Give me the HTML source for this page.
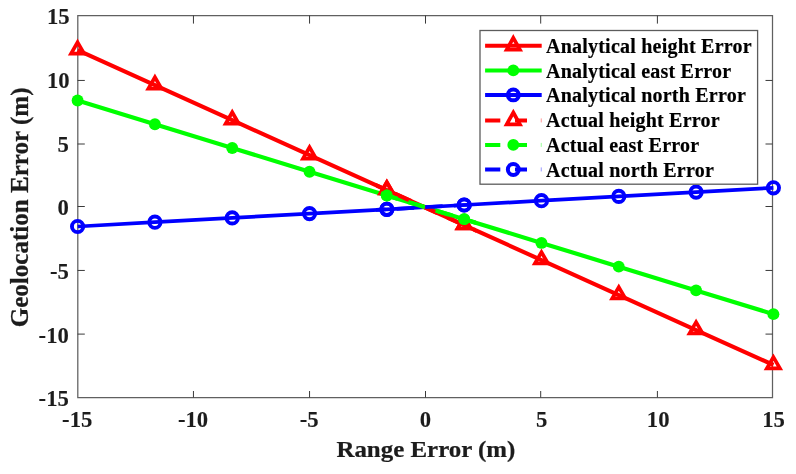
<!DOCTYPE html>
<html lang="en"><head><meta charset="utf-8"><title>Geolocation Error vs Range Error</title>
<style>html,body{margin:0;padding:0;background:#fff}body{width:796px;height:474px;overflow:hidden}svg{display:block}</style>
</head><body>
<svg width="796" height="474" viewBox="0 0 796 474">
<rect width="796" height="474" fill="#fff"/>
<path d="M77.8 15.5H772.5V397.5H77.8Z" stroke="#606060" stroke-width="1.25" fill="none"/>
<g stroke="#3a3a3a" stroke-width="1" fill="none">
<path d="M193.45 397.5v-6.5M193.45 15.5v8.1"/>
<path d="M309.55 397.5v-6.5M309.55 15.5v8.1"/>
<path d="M425.5 397.5v-6.5M425.5 15.5v8.1"/>
<path d="M540.7 397.5v-6.5M540.7 15.5v8.1"/>
<path d="M657.4 397.5v-6.5M657.4 15.5v8.1"/>
<path d="M77.6 80.45h7.2M772.5 80.45h-7"/>
<path d="M77.6 144.0h7.2M772.5 144.0h-7"/>
<path d="M77.6 206.5h7.2M772.5 206.5h-7"/>
<path d="M77.6 270.45h7.2M772.5 270.45h-7"/>
<path d="M77.6 334.1h7.2M772.5 334.1h-7"/>
</g>
<polyline points="77.60,50.20 154.91,85.18 232.22,120.16 309.53,155.13 386.84,190.11 464.16,225.09 541.47,260.07 618.78,295.04 696.09,330.02 773.40,365.00" fill="none" stroke="#f00" stroke-width="4.15" stroke-linejoin="round"/>
<g fill="none" stroke="#f00" stroke-width="3.7" stroke-miterlimit="10">
<path d="M77.60 42.30L84.12 53.60L71.07 53.60Z"/>
<path d="M154.91 77.28L161.44 88.58L148.39 88.58Z"/>
<path d="M232.22 112.26L238.75 123.56L225.70 123.56Z"/>
<path d="M309.53 147.23L316.06 158.53L303.01 158.53Z"/>
<path d="M386.84 182.21L393.37 193.51L380.32 193.51Z"/>
<path d="M464.16 217.19L470.68 228.49L457.63 228.49Z"/>
<path d="M541.47 252.17L547.99 263.47L534.94 263.47Z"/>
<path d="M618.78 287.14L625.30 298.44L612.25 298.44Z"/>
<path d="M696.09 322.12L702.61 333.42L689.56 333.42Z"/>
<path d="M773.40 357.10L779.92 368.40L766.88 368.40Z"/>
</g>
<polyline points="77.60,100.45 154.91,124.19 232.22,147.94 309.53,171.68 386.84,195.43 464.16,219.17 541.47,242.92 618.78,266.66 696.09,290.41 773.40,314.15" fill="none" stroke="#0f0" stroke-width="4.2" stroke-linejoin="round"/>
<g fill="#0f0">
<circle cx="77.60" cy="100.45" r="5.95"/>
<circle cx="154.91" cy="124.19" r="5.95"/>
<circle cx="232.22" cy="147.94" r="5.95"/>
<circle cx="309.53" cy="171.68" r="5.95"/>
<circle cx="386.84" cy="195.43" r="5.95"/>
<circle cx="464.16" cy="219.17" r="5.95"/>
<circle cx="541.47" cy="242.92" r="5.95"/>
<circle cx="618.78" cy="266.66" r="5.95"/>
<circle cx="696.09" cy="290.41" r="5.95"/>
<circle cx="773.40" cy="314.15" r="5.95"/>
</g>
<polyline points="77.60,226.50 154.91,222.20 232.22,217.90 309.53,213.60 386.84,209.30 464.16,205.00 541.47,200.70 618.78,196.40 696.09,192.10 773.40,187.80" fill="none" stroke="#00f" stroke-width="3.75" stroke-linejoin="round"/>
<g fill="none" stroke="#00f" stroke-width="3.9">
<circle cx="77.60" cy="226.50" r="5.65"/>
<circle cx="154.91" cy="222.20" r="5.65"/>
<circle cx="232.22" cy="217.90" r="5.65"/>
<circle cx="309.53" cy="213.60" r="5.65"/>
<circle cx="386.84" cy="209.30" r="5.65"/>
<circle cx="464.16" cy="205.00" r="5.65"/>
<circle cx="541.47" cy="200.70" r="5.65"/>
<circle cx="618.78" cy="196.40" r="5.65"/>
<circle cx="696.09" cy="192.10" r="5.65"/>
<circle cx="773.40" cy="187.80" r="5.65"/>
</g>
<clipPath id="cx"><rect x="376" y="150" width="100" height="110"/></clipPath>
<g clip-path="url(#cx)">
<polyline points="77.60,50.20 154.91,85.18 232.22,120.16 309.53,155.13 386.84,190.11 464.16,225.09 541.47,260.07 618.78,295.04 696.09,330.02 773.40,365.00" fill="none" stroke="#f00" stroke-width="4.15" stroke-dasharray="17.5 11.16" stroke-dashoffset="23.78"/>
<g fill="none" stroke="#f00" stroke-width="3.7" stroke-miterlimit="10">
<path d="M386.84 182.21L393.37 193.51L380.32 193.51Z"/>
<path d="M464.16 217.19L470.68 228.49L457.63 228.49Z"/>
</g>
<polyline points="77.60,100.45 154.91,124.19 232.22,147.94 309.53,171.68 386.84,195.43 464.16,219.17 541.47,242.92 618.78,266.66 696.09,290.41 773.40,314.15" fill="none" stroke="#0f0" stroke-width="4.2" stroke-dasharray="17.5 11.16" stroke-dashoffset="26.74"/>
<g fill="#0f0">
<circle cx="386.84" cy="195.43" r="5.95"/>
<circle cx="464.16" cy="219.17" r="5.95"/>
</g>
<polyline points="77.60,226.50 154.91,222.20 232.22,217.90 309.53,213.60 386.84,209.30 464.16,205.00 541.47,200.70 618.78,196.40 696.09,192.10 773.40,187.80" fill="none" stroke="#00f" stroke-width="3.75" stroke-dasharray="17.5 11.16" stroke-dashoffset="24.44"/>
<g fill="none" stroke="#00f" stroke-width="3.9">
<circle cx="386.84" cy="209.30" r="5.65"/>
<circle cx="464.16" cy="205.00" r="5.65"/>
</g>
</g>
<rect x="480.0" y="30.5" width="277.6" height="153.7" fill="#fff" stroke="#5c5c5c" stroke-width="1.3"/>
<path d="M485.1 45.8H541.7" stroke="#f00" stroke-width="4.05" fill="none"/>
<path d="M513.30 37.88L519.90 49.75L506.70 49.75Z" fill="none" stroke="#f00" stroke-width="3.7" stroke-miterlimit="10"/>
<path d="M485.1 70.4H541.7" stroke="#0f0" stroke-width="4.05" fill="none"/>
<circle cx="513.3" cy="70.4" r="5.95" fill="#0f0"/>
<path d="M485.1 94.9H541.7" stroke="#00f" stroke-width="4.05" fill="none"/>
<circle cx="513.3" cy="94.9" r="5.45" fill="none" stroke="#00f" stroke-width="4"/>
<path d="M485.1 120.4H500.3M515 120.4H527" stroke="#f00" stroke-width="4.05" fill="none"/>
<rect x="540.8" y="118.4" width=".8" height="4" fill="#f00" fill-opacity=".5"/>
<path d="M513.30 112.48L519.90 124.35L506.70 124.35Z" fill="none" stroke="#f00" stroke-width="3.7" stroke-miterlimit="10"/>
<path d="M485.1 144.9H500.3M515 144.9H527" stroke="#0f0" stroke-width="4.05" fill="none"/>
<rect x="540.8" y="142.9" width=".8" height="4" fill="#0f0" fill-opacity=".5"/>
<circle cx="513.3" cy="144.9" r="5.95" fill="#0f0"/>
<path d="M485.1 169.45H500.3M515 169.45H527" stroke="#00f" stroke-width="4.05" fill="none"/>
<rect x="540.8" y="167.4" width=".8" height="4" fill="#00f" fill-opacity=".5"/>
<circle cx="513.3" cy="169.45" r="5.45" fill="none" stroke="#00f" stroke-width="4"/>
<g font-family="'Liberation Serif', 'Times New Roman', serif" font-weight="bold" fill="#1c1c1c" stroke="#1c1c1c" stroke-width=".25">
<g font-size="20" letter-spacing=".22" fill="#000" stroke="#000" stroke-width=".18">
<text x="546.0" y="52.6">Analytical height Error</text>
<text x="546.0" y="77.9">Analytical east Error</text>
<text x="546.0" y="102.4">Analytical north Error</text>
<text x="546.0" y="127.4">Actual height Error</text>
<text x="546.0" y="152.1">Actual east Error</text>
<text x="546.0" y="177.4">Actual north Error</text>
</g>
<g font-size="22.67" text-anchor="middle" stroke-width=".12">
<text transform="translate(77.2 427.1) scale(1 1.03)">-15</text>
<text transform="translate(193.1 427.1) scale(1 1.03)">-10</text>
<text transform="translate(309.2 427.1) scale(1 1.03)">-5</text>
<text transform="translate(425.3 427.1) scale(1 1.03)">0</text>
<text transform="translate(541.7 427.1) scale(1 1.03)">5</text>
<text transform="translate(658.2 427.1) scale(1 1.03)">10</text>
<text transform="translate(773.6 427.1) scale(1 1.03)">15</text>
</g>
<g font-size="22.67" text-anchor="end" stroke-width=".12">
<text transform="translate(69.6 24.2) scale(1 1.03)">15</text>
<text transform="translate(69.6 87.7) scale(1 1.03)">10</text>
<text transform="translate(68.8 152.3) scale(1 1.03)">5</text>
<text transform="translate(68.8 215.3) scale(1 1.03)">0</text>
<text transform="translate(68.8 279.0) scale(1 1.03)">-5</text>
<text transform="translate(68.8 343.1) scale(1 1.03)">-10</text>
<text transform="translate(68.8 406.3) scale(1 1.03)">-15</text>
</g>
<text font-size="24.93" text-anchor="middle" transform="translate(425.9 457) scale(1 .95)">Range Error (m)</text>
<text font-size="25.05" text-anchor="middle" transform="translate(27.5 207.4) rotate(-90)">Geolocation Error (m)</text>
</g>
</svg>
</body></html>
